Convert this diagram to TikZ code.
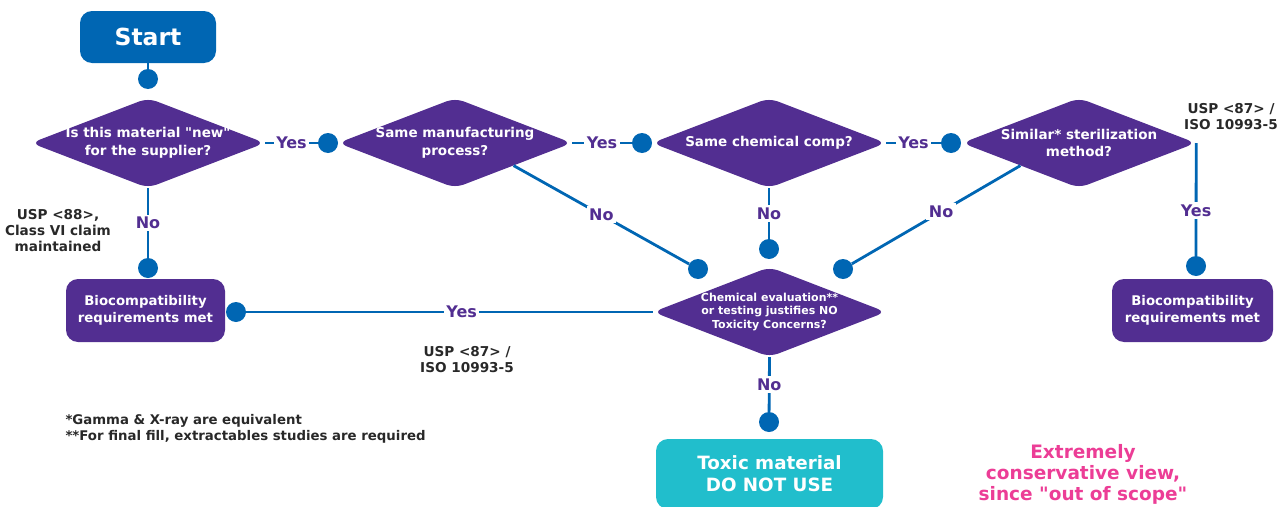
\documentclass[tikz,border=0pt]{standalone}
\usepackage{fontspec}
\setmainfont{DejaVu Sans}
\usetikzlibrary{shapes.geometric}
\definecolor{cblue}{RGB}{0,102,179}
\definecolor{cpurple}{RGB}{82,46,145}
\definecolor{ccyan}{RGB}{33,190,204}
\definecolor{cpink}{RGB}{236,61,150}
\definecolor{cdark}{RGB}{40,40,40}
\tikzset{
 dia/.style={diamond, fill=cpurple, minimum width=234pt, minimum height=90pt, inner sep=0pt, rounded corners=9pt},
 dtext/.style={text=white, font=\bfseries\fontsize{13.5}{17.5}\selectfont, align=center},
 rbox/.style={rectangle, rounded corners=12pt, fill=cpurple, text=white, align=center, inner sep=0pt, font=\bfseries\fontsize{13.3}{17}\selectfont},
 dot/.style={circle, fill=cblue, minimum size=20pt, inner sep=0pt},
 conn/.style={draw=cblue, line width=2.8pt},
 lbl/.style={fill=white, text=cpurple, font=\bfseries\fontsize{16}{19}\selectfont, inner sep=2.5pt},
 note/.style={text=cdark, font=\bfseries\fontsize{13.6}{16}\selectfont, align=center},
 pinknote/.style={text=cpink, font=\bfseries\fontsize{18.5}{21}\selectfont, align=center},
}
\begin{document}
\begin{tikzpicture}[x=1pt,y=-1pt]
\useasboundingbox (0,0) rectangle (1285,506);
% boxes
\node[rbox, fill=cblue, minimum width=136pt, minimum height=52pt, font=\bfseries\fontsize{23.5}{28}\selectfont] (start) at (148,37) {Start};
\node[rbox, minimum width=159pt, minimum height=63pt] (b1) at (145.5,310.5) {Biocompatibility\\requirements met};
\node[rbox, minimum width=161pt, minimum height=63pt] (b2) at (1192.5,310.5) {Biocompatibility\\requirements met};
\node[rbox, fill=ccyan, minimum width=227pt, minimum height=70pt, font=\bfseries\fontsize{18.3}{22}\selectfont] (tox) at (769.5,474) {Toxic material\\DO NOT USE};
% diamonds
\node[dia] (d1) at (148,143) {};
\node[dtext] (t1) at (d1) {Is this material \textquotedbl new\textquotedbl\\for the supplier?};
\node[dia] (d2) at (455,143) {};
\node[dtext] (t2) at (d2) {Same manufacturing\\process?};
\node[dia] (d3) at (769,143) {};
\node[dtext] (t3) at (d3) {Same chemical comp?};
\node[dia] (d4) at (1079,143) {};
\node[dtext] (t4) at (d4) {Similar* sterilization\\method?};
\node[dia, minimum width=233pt] (d5) at (769.5,312) {};
\node[dtext, font=\bfseries\fontsize{11}{13.5}\selectfont] (t5) at (d5) {Chemical evaluation**\\or testing justifies NO\\Toxicity Concerns?};
% dots
\node[dot] (p0) at (148,79) {};
\node[dot] (p1) at (328,143) {};
\node[dot] (p2) at (642,143) {};
\node[dot] (p3) at (951,143) {};
\node[dot] (p4) at (148,268) {};
\node[dot] (p5) at (236,312) {};
\node[dot] (p6) at (698,269) {};
\node[dot] (p7) at (843,269) {};
\node[dot] (p8) at (769,249) {};
\node[dot] (p9) at (1196,266) {};
\node[dot] (p10) at (769,422) {};
% connectors
\draw[conn] (start) -- (p0);
\draw[conn] (d1.east) -- node[lbl]{Yes} (p1);
\draw[conn] (d2.east) -- node[lbl]{Yes} (p2);
\draw[conn] (d3.east) -- node[lbl]{Yes} (p3);
\draw[conn] (d1.south) -- node[lbl]{No} (p4);
\draw[conn] (p5) -- node[lbl,pos=0.53]{Yes} (d5.west);
\draw[conn] (d2.south east) -- node[lbl]{No} (p6);
\draw[conn] (d3.south) -- node[lbl]{No} (p8);
\draw[conn] (d4.south west) -- node[lbl,pos=0.47]{No} (p7);
\draw[conn] (d4.east) -- node[lbl,pos=0.6]{Yes} (p9);
\draw[conn] (d5.south) -- node[lbl]{No} (p10);
% notes
\node[note] (usp88) at (58,231) {USP <88>,\\Class VI claim\\maintained};
\node[note] (usp87a) at (467,360) {USP <87> /\\ISO 10993-5};
\node[note] (usp87b) at (1231,117) {USP <87> /\\ISO 10993-5};
\node[note, anchor=west, align=left, font=\bfseries\fontsize{13.3}{16}\selectfont] (fn) at (62,429) {*Gamma \& X-ray are equivalent\\**For final fill, extractables studies are required};
\node[pinknote] (pink) at (1083,474) {Extremely\\conservative view,\\since \textquotedbl out of scope\textquotedbl};
\end{tikzpicture}
\end{document}
